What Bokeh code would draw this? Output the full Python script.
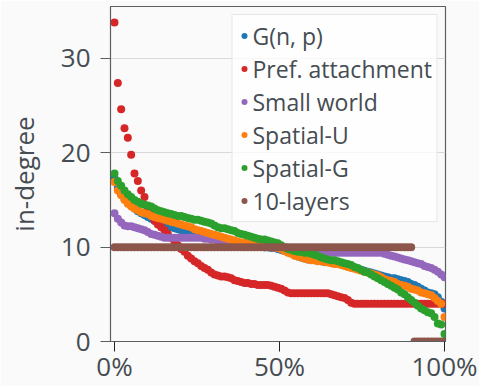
from bokeh.plotting import figure
from bokeh.models import Range1d, FixedTicker, Legend, LegendItem, ColumnDataSource
from bokeh.embed import file_html
from bokeh.resources import INLINE

# ---- data ----
series_names = ["G(n, p)", "Pref. attachment", "Small world", "Spatial-U", "Spatial-G", "10-layers"]
series_colors = ["#1f77b4", "#d62728", "#9467bd", "#ff7f0e", "#2ca02c", "#8c564b"]

gnp = [17.3, 16.3, 15.6, 15.1, 14.7, 14.4, 14.1, 13.8, 13.6, 13.4,
       13.2, 13.0, 12.8, 12.6, 12.5, 12.3, 12.2, 12.1, 12.0, 11.9,
       11.8, 11.7, 11.7, 11.6, 11.6, 11.5, 11.4, 11.3, 11.2, 11.1,
       11.0, 10.9, 10.9, 10.8, 10.7, 10.6, 10.5, 10.5, 10.4, 10.3,
       10.3, 10.2, 10.2, 10.1, 10.1, 10.0, 10.0, 9.9, 9.9, 9.8,
       9.7, 9.6, 9.5, 9.4, 9.2, 9.0, 8.9, 8.8, 8.7, 8.7,
       8.6, 8.6, 8.5, 8.5, 8.4, 8.4, 8.3, 8.3, 8.2, 8.1,
       8.0, 7.9, 7.8, 7.7, 7.6, 7.5, 7.4, 7.3, 7.2, 7.1,
       7.0, 6.9, 6.8, 6.7, 6.7, 6.6, 6.5, 6.4, 6.3, 6.1,
       6.0, 5.8, 5.6, 5.4, 5.2, 5.1, 5.0, 4.7, 4.2, 3.5]

pref = [33.8, 27.4, 24.6, 22.6, 21.6, 19.8, 17.8, 17.0, 16.0, 15.3,
        14.0, 13.4, 12.8, 12.4, 12.1, 11.8, 11.4, 11.0, 10.6, 10.2,
        9.8, 9.5, 9.1, 8.8, 8.5, 8.3, 8.0, 7.8, 7.6, 7.3,
        7.1, 7.0, 6.9, 6.9, 6.8, 6.7, 6.5, 6.4, 6.3, 6.2,
        6.2, 6.1, 6.1, 6.0, 6.0, 6.0, 6.0, 5.9, 5.8, 5.7,
        5.6, 5.4, 5.2, 5.1, 5.1, 5.1, 5.1, 5.1, 5.1, 5.1,
        5.1, 5.1, 5.1, 5.1, 5.1, 5.0, 4.9, 4.8, 4.7, 4.6,
        4.4, 4.1, 4.0, 4.0, 4.0, 4.0, 4.0, 4.0, 4.0, 4.0,
        4.0, 4.0, 4.0, 4.0, 4.0, 4.0, 4.0, 4.0, 4.0, 4.0,
        4.0, 4.0, 4.0, 4.0, 4.0, 4.0, 4.0, 4.0, 4.0, 4.0]

small_world = [13.6, 13.0, 12.6, 12.3, 12.2, 12.2, 12.1, 12.0, 11.9, 11.8,
               11.6, 11.4, 11.3, 11.2, 11.1, 11.0, 11.0, 11.0, 11.0, 11.0,
               11.0, 11.0, 11.0, 11.0, 11.0, 11.0, 11.0, 10.9, 10.9, 10.8,
               10.8, 10.7, 10.7, 10.6, 10.6, 10.5, 10.5, 10.4, 10.4, 10.3,
               10.3, 10.2, 10.2, 10.1, 10.1, 10.0, 10.0, 10.0, 9.9, 9.9,
               9.8, 9.8, 9.7, 9.7, 9.6, 9.6, 9.5, 9.5, 9.5, 9.4,
               9.4, 9.4, 9.4, 9.4, 9.4, 9.4, 9.4, 9.4, 9.4, 9.4,
               9.4, 9.4, 9.4, 9.4, 9.4, 9.4, 9.4, 9.4, 9.4, 9.4,
               9.4, 9.3, 9.2, 9.1, 9.0, 8.9, 8.8, 8.7, 8.6, 8.5,
               8.4, 8.3, 8.2, 8.0, 7.9, 7.8, 7.6, 7.4, 7.1, 6.8]

spatial_u = [16.9, 16.0, 15.5, 15.0, 14.6, 14.3, 14.1, 13.9, 13.7, 13.6,
             13.5, 13.3, 13.2, 13.1, 13.0, 12.9, 12.8, 12.7, 12.6, 12.5,
             12.4, 12.3, 12.2, 12.1, 11.9, 11.8, 11.7, 11.6, 11.5, 11.4,
             11.3, 11.2, 11.1, 11.0, 10.9, 10.8, 10.7, 10.6, 10.5, 10.5,
             10.4, 10.4, 10.3, 10.3, 10.2, 10.2, 10.1, 10.0, 10.0, 9.9,
             9.8, 9.6, 9.4, 9.3, 9.1, 9.0, 8.9, 8.8, 8.7, 8.6,
             8.6, 8.5, 8.5, 8.4, 8.4, 8.3, 8.2, 8.2, 8.1, 8.0,
             7.9, 7.8, 7.7, 7.6, 7.5, 7.4, 7.3, 7.2, 7.1, 7.0,
             6.8, 6.6, 6.5, 6.4, 6.3, 6.1, 6.0, 5.9, 5.8, 5.6,
             5.5, 5.4, 5.2, 5.1, 5.0, 4.9, 4.6, 4.3, 4.0, 2.6]

spatial_g = [17.8, 17.0, 16.5, 16.0, 15.6, 15.3, 15.0, 14.8, 14.6, 14.5,
             14.4, 14.3, 14.1, 13.9, 13.8, 13.7, 13.6, 13.5, 13.4, 13.3,
             13.3, 13.2, 13.1, 13.0, 12.9, 12.9, 12.8, 12.7, 12.6, 12.5,
             12.3, 12.1, 12.0, 12.0, 11.9, 11.8, 11.7, 11.5, 11.4, 11.3,
             11.2, 11.1, 11.0, 10.9, 10.8, 10.8, 10.7, 10.6, 10.5, 10.4,
             10.2, 10.0, 9.8, 9.7, 9.6, 9.5, 9.5, 9.4, 9.4, 9.3,
             9.2, 9.1, 8.9, 8.8, 8.7, 8.6, 8.6, 8.5, 8.4, 8.3,
             8.2, 8.1, 7.9, 7.8, 7.6, 7.4, 7.3, 7.1, 6.9, 6.7,
             6.5, 6.3, 6.1, 5.9, 5.7, 5.5, 5.2, 5.0, 4.7, 4.4,
             4.1, 3.8, 3.5, 3.3, 3.1, 3.0, 2.6, 1.9, 1.8, 0.8]

ten_layers = [10.0] * 90 + [0.0] * 10

series_values = [gnp, pref, small_world, spatial_u, spatial_g, ten_layers]

x_ticks = [0, 0.5, 1]
x_tick_labels = ["0%", "50%", "100%"]
y_ticks = [0, 10, 20, 30]
y_label = "in-degree"

# ---- figure ----
FONT = "Open Sans"
TXT = "#454c52"
BG = "#fafafa"
SPINE = "#5a5f64"

p = figure(width=479, height=386, output_backend="svg", toolbar_location=None,
           x_range=Range1d(-0.0121, 1.003), y_range=Range1d(0, 35.5),
           min_border_left=110, min_border_right=34, min_border_top=6, min_border_bottom=45,
           background_fill_color=BG, border_fill_color=BG)

p.outline_line_color = SPINE
p.outline_line_width = 1.2

items = []
for name, color, vals in zip(series_names, series_colors, series_values):
    n = len(vals)
    src = ColumnDataSource(dict(x=[i / (n - 1) for i in range(n)], y=vals))
    r = p.scatter("x", "y", source=src, size=8, fill_color=color, line_color=None)
    items.append(LegendItem(label=name, renderers=[r]))

legend = Legend(items=items, location="top_right")
legend.label_text_font = FONT
legend.label_text_font_size = "23px"
legend.label_text_color = TXT
legend.glyph_width = 15
legend.glyph_height = 33
legend.label_height = 33
legend.label_standoff = 1
legend.spacing = 0
legend.padding = 4
legend.margin = 8
legend.background_fill_color = "white"
legend.background_fill_alpha = 0.8
legend.border_line_color = "#d0d0d0"
legend.border_line_width = 1
p.add_layout(legend)

p.xgrid.visible = False
p.ygrid.grid_line_color = "#d8d8d8"
p.ygrid.grid_line_width = 1

xa = p.xaxis[0]
xa.ticker = FixedTicker(ticks=x_ticks)
xa.major_label_overrides = {t: lab for t, lab in zip(x_ticks, x_tick_labels)}
xa.minor_tick_line_color = None
xa.major_tick_out = 10
xa.major_tick_in = 0
xa.major_tick_line_color = "#222222"
xa.axis_line_color = SPINE
xa.major_label_text_font = FONT
xa.major_label_text_font_size = "26px"
xa.major_label_text_color = TXT
xa.major_label_standoff = -4

ya = p.yaxis[0]
ya.ticker = FixedTicker(ticks=y_ticks)
ya.minor_tick_line_color = None
ya.major_tick_out = 10
ya.major_tick_in = 0
ya.major_tick_line_color = SPINE
ya.axis_line_color = SPINE
ya.major_label_text_font = FONT
ya.major_label_text_font_size = "26px"
ya.major_label_text_color = TXT
ya.major_label_standoff = 10
ya.axis_label = y_label
ya.axis_label_text_font = FONT
ya.axis_label_text_font_size = "26px"
ya.axis_label_text_font_style = "normal"
ya.axis_label_text_color = TXT
ya.axis_label_standoff = 16

open("out.html", "w").write(file_html(p, INLINE))
